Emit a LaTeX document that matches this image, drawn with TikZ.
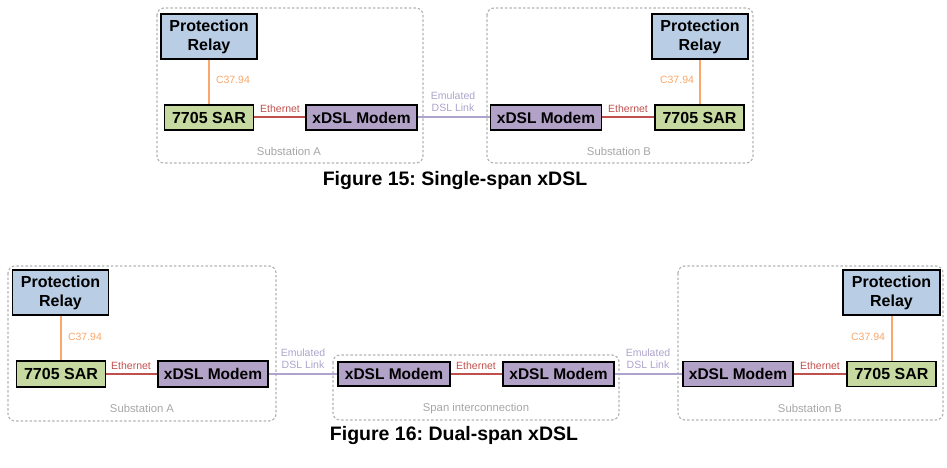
\documentclass[tikz,border=0pt]{standalone}
\usepackage{fontspec}
\setmainfont{Liberation Sans}
\frenchspacing
\begin{document}
\begin{tikzpicture}[x=1pt,y=-1pt,
  dev/.style={draw=black,line width=1.9pt,inner sep=0pt,font=\fontsize{16}{19}\selectfont\bfseries,align=center},
  relay/.style={dev,fill=relayblue,minimum width=96pt,minimum height=45pt},
  sar/.style={dev,fill=sargreen,minimum width=89pt,minimum height=25pt},
  modem/.style={dev,fill=modempurple,minimum width=111pt,minimum height=25pt,font=\fontsize{15.5}{16}\selectfont\bfseries},
  site/.style={draw=sitegray,dashed,dash pattern=on 2.5pt off 2pt,line width=1.2pt,rounded corners=7pt},
  sitelbl/.style={text=sitetext,font=\fontsize{11.3}{12}\selectfont},
  c37/.style={draw=c37orange,line width=2pt},
  eth/.style={draw=ethred,line width=2pt},
  dsl/.style={draw=dsllav,line width=2pt},
  c37lbl/.style={text=c37orange,font=\fontsize{10.5}{11}\selectfont},
  ethlbl/.style={text=ethred,font=\fontsize{10.5}{11}\selectfont,inner sep=0pt,anchor=south},
  dsllbl/.style={text=dsllav,font=\fontsize{10.5}{12.5}\selectfont,align=center,inner sep=0pt},
  caption/.style={font=\fontsize{19.5}{20}\selectfont\bfseries}
]
\definecolor{relayblue}{HTML}{B9CDE5}
\definecolor{sargreen}{HTML}{C5D9A0}
\definecolor{modempurple}{HTML}{B3A2C7}
\definecolor{sitegray}{HTML}{B4B4B4}
\definecolor{sitetext}{HTML}{A6A6A6}
\definecolor{c37orange}{HTML}{F9A76A}
\definecolor{ethred}{HTML}{C0504D}
\definecolor{dsllav}{HTML}{ADA3CC}
\useasboundingbox (0,0) rectangle (947,468);

% ===== Figure 15 =====
\draw[site] (157,8) rectangle (423,163);
\draw[site] (487,8) rectangle (753,163);
\node[sitelbl] (sa1) at (289,151) {Substation A};
\node[sitelbl] (sb1) at (619,151) {Substation B};

\node[relay] (prA1) at (209,36.5) {Protection\\Relay};
\node[sar] (sarA1) at (209,117.5) {7705 SAR};
\node[modem] (moA1) at (361.5,117.5) {xDSL Modem};
\node[modem] (moB1) at (546,117.5) {xDSL Modem};
\node[sar] (sarB1) at (699.5,117.5) {7705 SAR};
\node[relay] (prB1) at (700,36.5) {Protection\\Relay};

\draw[c37] (prA1.south) -- (sarA1.north);
\draw[c37] (prB1.south) -- (prB1.south |- sarB1.north);
\draw[eth] (sarA1.east) -- (moA1.west);
\draw[eth] (moB1.east) -- (sarB1.west);
\draw[dsl] (moA1.east) -- (moB1.west);

\node[c37lbl] (c37a1) at (233,80) {C37.94};
\node[c37lbl] (c37b1) at (677,80) {C37.94};
\node[ethlbl] (etha1) at (280,113) {Ethernet};
\node[ethlbl] (ethb1) at (628,113) {Ethernet};
\node[dsllbl] (dsl1) at (453,101.5) {Emulated\\DSL Link};

\node[caption] (cap15) at (455,181) {Figure 15: Single-span xDSL};

% ===== Figure 16 =====
\draw[site] (8,266) rectangle (276,421);
\draw[site] (333,355) rectangle (619,420);
\draw[site] (678,266) rectangle (943,420);
\node[sitelbl] (sa2) at (142,408) {Substation A};
\node[sitelbl] (si2) at (476,409) {Span interconnection};
\node[sitelbl] (sb2) at (810,408) {Substation B};

\node[relay] (prA2) at (60.5,292.5) {Protection\\Relay};
\node[sar,minimum height=26pt] (sarA2) at (61,374) {7705 SAR};
\node[modem,minimum height=26pt,minimum width=110pt] (moA2) at (213,374) {xDSL Modem};
\node[modem,minimum height=24pt,minimum width=112pt] (moM1) at (394,374) {xDSL Modem};
\node[modem,minimum height=24pt] (moM2) at (558.5,374) {xDSL Modem};
\node[modem,minimum width=110pt] (moB2) at (738,374) {xDSL Modem};
\node[sar] (sarB2) at (891.5,374) {7705 SAR};
\node[relay,minimum width=97pt] (prB2) at (891.5,292.5) {Protection\\Relay};

\draw[c37] (prA2.south) -- (prA2.south |- sarA2.north);
\draw[c37] (prB2.south) -- (sarB2.north);
\draw[eth] (sarA2.east) -- (moA2.west);
\draw[eth] (moM1.east) -- (moM2.west);
\draw[eth] (moB2.east) -- (sarB2.west);
\draw[dsl] (moA2.east) -- (moM1.west);
\draw[dsl] (moM2.east) -- (moB2.west);

\node[c37lbl] (c37a2) at (85,337) {C37.94};
\node[c37lbl] (c37b2) at (868,337) {C37.94};
\node[ethlbl] (etha2) at (131,370) {Ethernet};
\node[ethlbl] (ethm2) at (476,370) {Ethernet};
\node[ethlbl] (ethb2) at (820,370) {Ethernet};
\node[dsllbl] (dsl2a) at (303,358.5) {Emulated\\DSL Link};
\node[dsllbl] (dsl2b) at (648,358.5) {Emulated\\DSL Link};

\node[caption] (cap16) at (454,435) {Figure 16: Dual-span xDSL};
\end{tikzpicture}
\end{document}
